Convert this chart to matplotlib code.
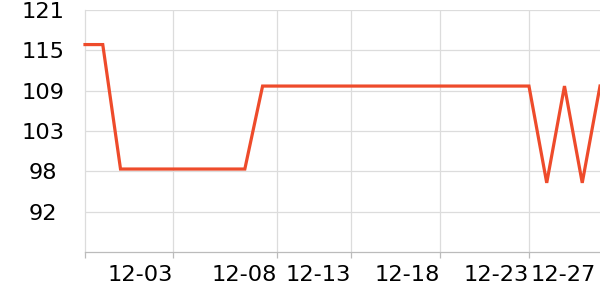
import matplotlib
matplotlib.use("Agg")
import matplotlib.pyplot as plt

values = [116, 116, 98, 98, 98, 98, 98, 98, 98, 98,
          110, 110, 110, 110, 110, 110, 110, 110, 110, 110,
          110, 110, 110, 110, 110, 110, 96, 110, 96, 110]
x_tick_pos = [4.95, 10.8, 15.0, 20.0, 25.0, 28.75]
x_tick_labels = ["12-03", "12-08", "12-13", "12-18", "12-23", "12-27"]
y_min, y_max = 86, 121
y_tick_labels = ["92", "98", "103", "109", "115", "121"]

fig = plt.figure(figsize=(6, 3), dpi=100)
ax = fig.add_axes([85/600, 48/300, 515/600, 242/300])

xs = list(range(len(values)))
ax.plot(xs, values, color="#ee4b2b", linewidth=2.3, clip_on=False, zorder=3,
        solid_joinstyle="miter")

ax.set_xlim(0, len(values) - 1)
ax.set_ylim(y_min, y_max)

step = (y_max - y_min) / 6
yt = [y_min + step * (k + 1) for k in range(6)]
ax.set_yticks(yt)
ax.set_yticklabels(y_tick_labels, fontsize=16.2)
ax.tick_params(axis="y", length=0, pad=30.2)
for lab in ax.get_yticklabels():
    lab.set_horizontalalignment("center")

# vertical grid lines (no line at the last label)
for p in x_tick_pos[:-1]:
    ax.axvline(p, color="#dcdcdc", linewidth=0.9, zorder=1)
for v in yt:
    ax.axhline(v, color="#dcdcdc", linewidth=0.9, zorder=1)

ax.set_xticks([0] + x_tick_pos[:-1])
ax.set_xticklabels([""] * 6)
ax.tick_params(axis="x", length=4, color="#bbbbbb", width=0.9)
for p, lab in zip(x_tick_pos, x_tick_labels):
    ax.text(p, -0.095, lab, transform=ax.get_xaxis_transform(), ha="right",
            va="center", fontsize=16.2, color="#000000")

for s in ["top", "right"]:
    ax.spines[s].set_visible(False)
ax.spines["bottom"].set_color("#bbbbbb")
ax.spines["bottom"].set_linewidth(0.9)
ax.spines["left"].set_color("#dcdcdc")
ax.spines["left"].set_linewidth(0.9)

fig.savefig("out.png", dpi=100)
